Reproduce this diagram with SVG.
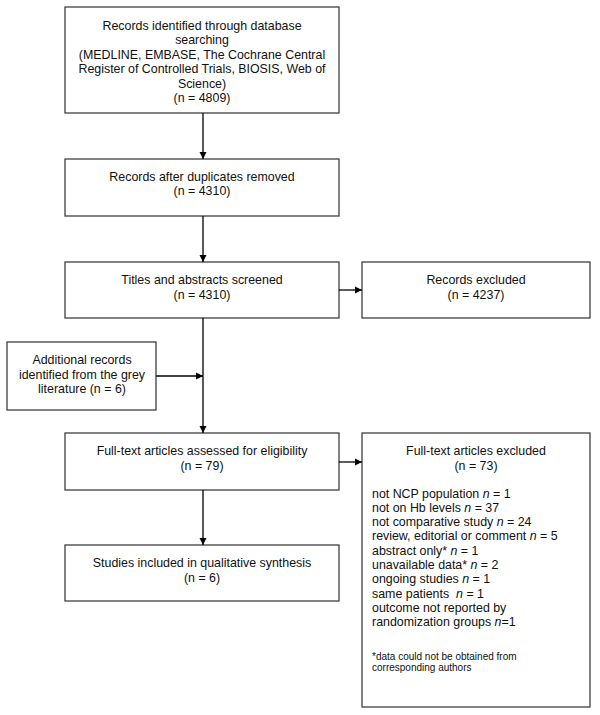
<svg xmlns="http://www.w3.org/2000/svg" width="600" height="715" viewBox="0 0 600 715">
<defs>
<marker id="ah" markerWidth="8" markerHeight="8" refX="7" refY="4" orient="auto" markerUnits="userSpaceOnUse">
<path d="M0,0.5 L7,4 L0,7.5 Z" fill="#000"/>
</marker>
<style>
rect.box{fill:#fff;stroke:#404040;stroke-width:1.3}
text{font-family:"Liberation Sans",Arial,sans-serif;font-size:12.4px;fill:#111}
text.c{text-anchor:middle}
text.sm{font-size:10px}
.conn line{stroke:#000;stroke-width:1.3;marker-end:url(#ah)}
</style>
</defs>
<rect width="600" height="715" fill="#fff"/>
<g id="identified">
<rect class="box" x="65" y="7" width="274" height="106"/>
<text class="c" x="202" y="29.5">Records identified through database</text>
<text class="c" x="202" y="44">searching</text>
<text class="c" x="202" y="58.5">(MEDLINE, EMBASE, The Cochrane Central</text>
<text class="c" x="202" y="73">Register of Controlled Trials, BIOSIS, Web of</text>
<text class="c" x="202" y="87.5">Science)</text>
<text class="c" x="202" y="102">(n = 4809)</text>
</g>
<g id="duplicates">
<rect class="box" x="65" y="159" width="274" height="57"/>
<text class="c" x="202" y="180.5">Records after duplicates removed</text>
<text class="c" x="202" y="195">(n = 4310)</text>
</g>
<g id="screened">
<rect class="box" x="65" y="262" width="274" height="56"/>
<text class="c" x="202" y="284">Titles and abstracts screened</text>
<text class="c" x="202" y="298.5">(n = 4310)</text>
</g>
<g id="excluded1">
<rect class="box" x="362" y="262" width="228" height="56"/>
<text class="c" x="476" y="284">Records excluded</text>
<text class="c" x="476" y="298.5">(n = 4237)</text>
</g>
<g id="additional">
<rect class="box" x="7" y="342" width="149" height="68"/>
<text class="c" x="82" y="364">Additional records</text>
<text class="c" x="82" y="378.5">identified from the grey</text>
<text class="c" x="82" y="393">literature (n = 6)</text>
</g>
<g id="fulltext">
<rect class="box" x="65" y="433" width="274" height="57"/>
<text class="c" x="202" y="455">Full-text articles assessed for eligibility</text>
<text class="c" x="202" y="469.5">(n = 79)</text>
</g>
<g id="excluded2">
<rect class="box" x="362" y="433" width="228" height="274"/>
<text class="c" x="476" y="455">Full-text articles excluded</text>
<text class="c" x="476" y="469.5">(n = 73)</text>
<text x="372" y="497.5">not NCP population <tspan font-style="italic">n</tspan> = 1</text>
<text x="372" y="511.8">not on Hb levels <tspan font-style="italic">n</tspan> = 37</text>
<text x="372" y="526.1">not comparative study <tspan font-style="italic">n</tspan> = 24</text>
<text x="372" y="540.4">review, editorial or comment <tspan font-style="italic">n</tspan> = 5</text>
<text x="372" y="554.7">abstract only* <tspan font-style="italic">n</tspan> = 1</text>
<text x="372" y="569">unavailable data* <tspan font-style="italic">n</tspan> = 2</text>
<text x="372" y="583.3">ongoing studies <tspan font-style="italic">n</tspan> = 1</text>
<text x="372" y="597.6">same patients &#160;<tspan font-style="italic">n</tspan> = 1</text>
<text x="372" y="611.9">outcome not reported by</text>
<text x="372" y="626.2">randomization groups <tspan font-style="italic">n</tspan>=1</text>
<text class="sm" x="372" y="659.5">*data could not be obtained from</text>
<text class="sm" x="372" y="671">corresponding authors</text>
</g>
<g id="included">
<rect class="box" x="65" y="545" width="274" height="56"/>
<text class="c" x="202" y="567">Studies included in qualitative synthesis</text>
<text class="c" x="202" y="581.5">(n = 6)</text>
</g>
<g class="conn" id="connectors">
<line x1="203" y1="113" x2="203" y2="159"/>
<line x1="203" y1="216" x2="203" y2="262"/>
<line x1="339" y1="290" x2="362" y2="290"/>
<line x1="203" y1="318" x2="203" y2="433"/>
<line x1="156" y1="376" x2="203" y2="376"/>
<line x1="339" y1="462" x2="362" y2="462"/>
<line x1="203" y1="490" x2="203" y2="545"/>
</g>
</svg>
